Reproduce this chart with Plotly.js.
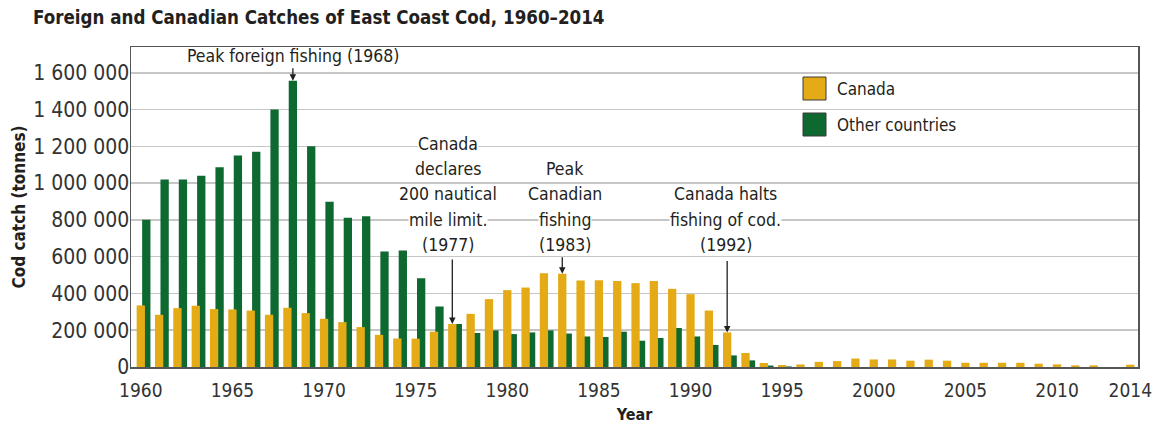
<!DOCTYPE html>
<html>
<head>
<meta charset="utf-8">
<script src="https://cdn.plot.ly/plotly-3.0.1.min.js"></script>
<style>html,body{margin:0;padding:0;background:#fff;}#chart{width:1157px;height:426px;}</style>
</head>
<body>
<div id="chart"></div>
<script>
// ---- data (tonnes) ----
const years = [1960,1961,1962,1963,1964,1965,1966,1967,1968,1969,
  1970,1971,1972,1973,1974,1975,1976,1977,1978,1979,
  1980,1981,1982,1983,1984,1985,1986,1987,1988,1989,
  1990,1991,1992,1993,1994,1995,1996,1997,1998,1999,
  2000,2001,2002,2003,2004,2005,2006,2007,2008,2009,
  2010,2011,2012,2013,2014];
const canada = [335000,284000,320000,333000,315000,313000,307000,284000,322000,293000,
  262000,244000,217000,175000,155000,154000,192000,234000,289000,369000,
  418000,432000,510000,507000,470000,472000,467000,456000,467000,425000,
  396000,307000,188000,76000,21700,11000,14000,28000,32000,46000,
  41000,41000,34500,40000,34500,23000,23000,23000,23000,18000,
  14500,9000,9000,0,12500];
const otherCountries = [800000,1020000,1020000,1040000,1086000,1150000,1170000,1400000,1556000,1200000,
  899000,811000,820000,628000,633000,483000,329000,234000,185000,199000,
  179000,188000,199000,182000,166000,163000,192000,143000,158000,212000,
  166000,120000,63000,36000,8000,3000,0,0,0,0,
  0,0,0,0,0,0,0,0,0,0,
  0,0,0,0,0];
const seriesNames = ['Canada', 'Other countries'];
const xTickVals = [1960,1965,1970,1975,1980,1985,1990,1995,2000,2005,2010,2014];
const xTickText = ['1960','1965','1970','1975','1980','1985','1990','1995','2000','2005','2010','2014'];
const yTickVals = [0,200000,400000,600000,800000,1000000,1200000,1400000,1600000];
const yTickText = ['0','200 000','400 000','600 000','800 000','1 000 000','1 200 000','1 400 000','1 600 000'];
const titleText = 'Foreign and Canadian Catches of East Coast Cod, 1960–2014';
const yTitle = 'Cod catch (tonnes)';
const xTitle = 'Year';
const peakForeignText = 'Peak foreign fishing (1968)';
const note1977 = ['Canada','declares','200 nautical','mile limit.','(1977)'];
const note1983 = ['Peak','Canadian','fishing','(1983)'];
const note1992 = ['Canada halts','fishing of cod.','(1992)'];

// ---- style ----
const FONT = '"DejaVu Sans Condensed", "Liberation Sans Narrow", sans-serif';
const TXT = '#231f20';
const YELLOW = '#E4AB16';
const GREEN = '#0E6930';
const W = 1157, H = 426, ML = 131, MR = 19, MT = 47, MB = 59;
const PW = W - ML - MR, PH = H - MT - MB;
const px = x => (x - ML) / PW;
const py = y => 1 - (y - MT) / PH;
const NOTE_SIZE = 17.5;

const traces = [
  {type:'bar', name: seriesNames[1], x: years, y: otherCountries,
   width: 0.453, offset: 0.073, marker:{color: GREEN, line:{width:0}}, hoverinfo:'x+y'},
  {type:'bar', name: seriesNames[0], x: years, y: canada,
   width: 0.453, offset: -0.227, marker:{color: YELLOW, line:{width:0}}, hoverinfo:'x+y'}
];

const annotations = [];
function lineNote(lines, cx, rows) {
  lines.forEach((t, i) => {
    const yPix = rows[i];
    const needsBg = (yPix === 144 || yPix === 219.5);
    annotations.push({xref:'paper', yref:'paper', x: px(cx), y: py(yPix),
      xanchor:'center', yanchor:'middle', text: t, showarrow:false,
      font:{family: FONT, size: NOTE_SIZE, color: TXT},
      bgcolor: needsBg ? '#ffffff' : 'rgba(0,0,0,0)', borderpad: 0});
  });
}
lineNote(note1977, 448, [144, 168.5, 194, 219.5, 244.5]);
lineNote(note1983, 565, [168.5, 194, 219.5, 244.5]);
lineNote(note1992, 725.5, [194, 219.5, 244.5]);
annotations.push({xref:'paper', yref:'paper', x: px(292.5), y: py(56.5), xanchor:'center', yanchor:'middle',
  text: peakForeignText, showarrow:false, font:{family: FONT, size: NOTE_SIZE, color: TXT}});

// arrows pointing at bars
function arrow(year, value, offset, len) {
  annotations.push({xref:'x', yref:'y', x: year + offset, y: value, text:'', showarrow:true,
    ax: 0, ay: -len, arrowhead: 2, arrowsize: 1, arrowwidth: 1.3, arrowcolor: TXT, standoff: 0});
}
const idx = y => years.indexOf(y);
arrow(1968, otherCountries[idx(1968)], 0.3, 14);
arrow(1977, canada[idx(1977)], 0, 66);
arrow(1983, canada[idx(1983)], 0, 18);
arrow(1992, canada[idx(1992)], 0, 73);

// legend (manual)
const shapes = [];
const legendItems = [{name: seriesNames[0], color: YELLOW, top: 77}, {name: seriesNames[1], color: GREEN, top: 113}];
legendItems.forEach(it => {
  shapes.push({type:'rect', xref:'paper', yref:'paper', x0: px(803), x1: px(826), y0: py(it.top + 23), y1: py(it.top),
    fillcolor: it.color, line:{color:'#3a3a3a', width:1}});
  annotations.push({xref:'paper', yref:'paper', x: px(835), y: py(it.top + 12), xanchor:'left', yanchor:'middle',
    text: it.name, showarrow:false, font:{family: FONT, size: 17, color: TXT}});
});

const layout = {
  width: W, height: H,
  margin: {l: ML, r: MR, t: MT, b: MB, pad: 0},
  paper_bgcolor: '#fff', plot_bgcolor: '#fff',
  barmode: 'overlay',
  showlegend: false,
  font: {family: FONT, color: TXT},
  title: {text: '<b>' + titleText + '</b>', font: {family: FONT, size: 18.6, color: TXT},
    x: 33 / W, xanchor: 'left', xref: 'container', y: 1 - 17 / H, yanchor: 'middle', yref: 'container'},
  xaxis: {range: [1959.465, 2014.42], tickmode: 'array', tickvals: xTickVals, ticktext: xTickText,
    showgrid: false, zeroline: false, showline: true, mirror: true, linecolor: '#555', linewidth: 1.5,
    ticks: '', ticklabelstandoff: 6, tickfont: {family: FONT, size: 19, color: '#333'},
    title: {text: '<b>' + xTitle + '</b>', font: {family: FONT, size: 16, color: TXT}, standoff: 8}},
  yaxis: {range: [0, 1740000], tickmode: 'array', tickvals: yTickVals, ticktext: yTickText,
    showgrid: true, gridcolor: '#c6c6c6', gridwidth: 1.5, zeroline: false,
    showline: true, mirror: true, linecolor: '#555', linewidth: 1.5,
    ticks: '', ticklabelstandoff: -4, tickfont: {family: FONT, size: 21, color: '#333'},
    title: {text: '<b>' + yTitle + '</b>', font: {family: FONT, size: 17, color: TXT}, standoff: 3}},
  annotations: annotations,
  shapes: shapes
};

Plotly.newPlot('chart', traces, layout, {displayModeBar: false, staticPlot: true});
</script>
</body>
</html>
